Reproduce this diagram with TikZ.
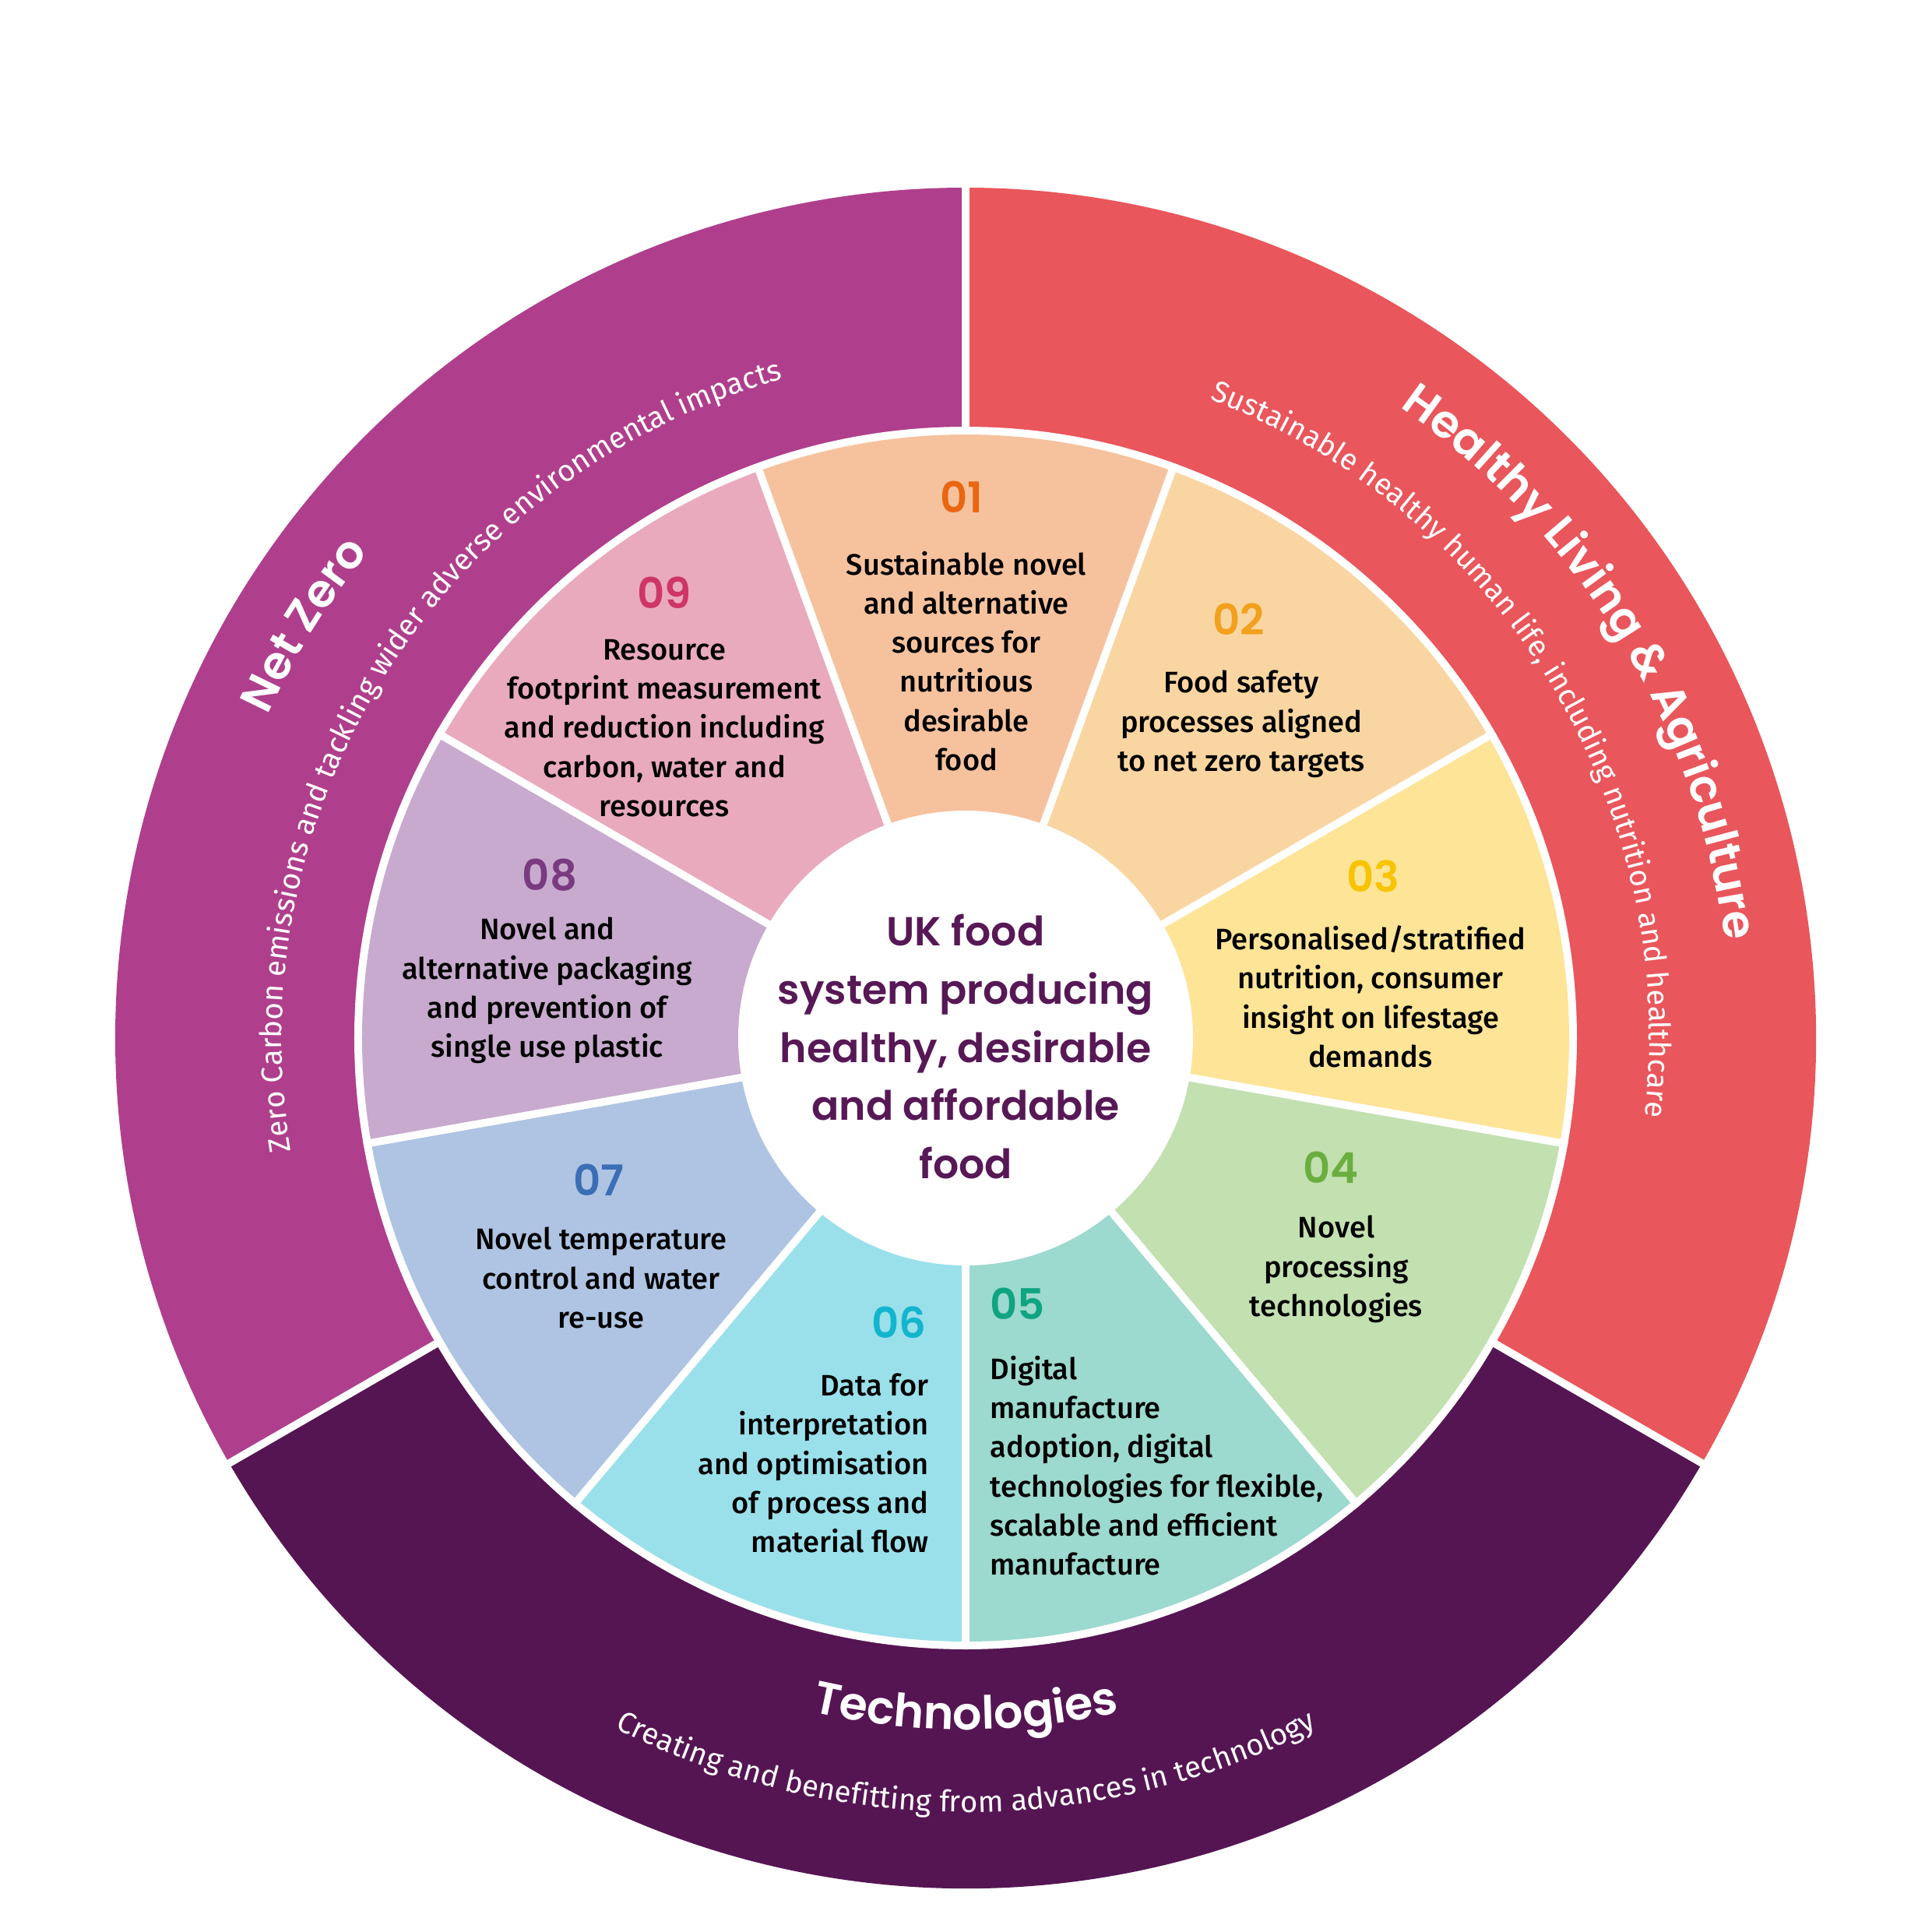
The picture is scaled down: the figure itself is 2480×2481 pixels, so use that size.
\documentclass[tikz,border=0pt]{standalone}
\usepackage{fontspec}
\setmainfont{Fira Sans}[UprightFont=* Medium]
\newfontfamily\subfont{Fira Sans}
\newfontfamily\headfont{Poppins}[UprightFont=* SemiBold]
\usetikzlibrary{decorations.text}
\definecolor{netzero}{HTML}{AF3F8C}
\definecolor{healthy}{HTML}{E9565B}
\definecolor{tech}{HTML}{551553}
\definecolor{ctext}{HTML}{571856}
\definecolor{w01}{HTML}{F6C29E}\definecolor{n01}{HTML}{EA6610}
\definecolor{w02}{HTML}{F9D6A1}\definecolor{n02}{HTML}{F3A01D}
\definecolor{w03}{HTML}{FDE497}\definecolor{n03}{HTML}{F8C300}
\definecolor{w04}{HTML}{C3E0B1}\definecolor{n04}{HTML}{6BAE3F}
\definecolor{w05}{HTML}{9CD9CE}\definecolor{n05}{HTML}{0FA482}
\definecolor{w06}{HTML}{9AE0EA}\definecolor{n06}{HTML}{12B5CE}
\definecolor{w07}{HTML}{AEC4E2}\definecolor{n07}{HTML}{3A6EB5}
\definecolor{w08}{HTML}{C8AACE}\definecolor{n08}{HTML}{793A80}
\definecolor{w09}{HTML}{E9AABE}\definecolor{n09}{HTML}{CF3566}
\tikzset{
  num/.style={font=\headfont\fontsize{15.5}{18}\selectfont, inner sep=0pt},
  body/.style={font=\fontsize{10.8}{14.3}\selectfont, align=center, text=black, inner sep=0pt},
  gap/.style={white, line width=2.8pt},
  arctitle/.style={decorate, decoration={text along path, text align=center, text color=white, text={|\headfont\fontsize{16.7}{20}\selectfont|#1}}},
  arcsub/.style={decorate, decoration={text along path, text align=center, text color=white, text={|\subfont\fontsize{10.9}{12}\selectfont|#1}}}
}
\begin{document}
\begin{tikzpicture}[x=0.01cm,y=0.01cm]
\useasboundingbox (-1240,-1148) rectangle (1240,1333);
% outer ring
\fill[netzero] (0,0) -- (90:1092) arc[start angle=90,end angle=210,radius=1092] -- cycle;
\fill[healthy] (0,0) -- (-30:1092) arc[start angle=-30,end angle=90,radius=1092] -- cycle;
\fill[tech] (0,0) -- (210:1092) arc[start angle=210,end angle=330,radius=1092] -- cycle;
\fill[white] (0,0) circle[radius=785];
\foreach \a in {90,210,330} \draw[gap] (\a:770) -- (\a:1100);
% inner wedges
\foreach \c [count=\k from 0] in {w01,w02,w03,w04,w05,w06,w07,w08,w09} {
  \pgfmathsetmacro\s{70-40*\k}
  \pgfmathsetmacro\e{110-40*\k}
  \fill[\c] (0,0) -- (\s:775) arc[start angle=\s,end angle=\e,radius=775] -- cycle;
}
\foreach \a in {70,30,-10,-50,-90,-130,-170,-210,-250} \draw[gap] (0,0) -- (\a:785);
\fill[white] (0,0) circle[radius=292];
% ring texts
\path[arctitle={Net Zero}] (208:988) arc[start angle=208,end angle=88,radius=988];
\path[arcsub={Zero Carbon emissions and tackling wider adverse environmental impacts}] (207.5:878) arc[start angle=207.5,end angle=87.5,radius=878];
\path[arctitle={Healthy Living {\&} Agriculture}] (91.4:983) arc[start angle=91.4,end angle=-28.6,radius=983];
\path[arcsub={Sustainable healthy human life, including nutrition and healthcare}] (91.25:878) arc[start angle=91.25,end angle=-28.75,radius=878];
\path[arctitle={Technologies}] (210:888) arc[start angle=210,end angle=330,radius=888];
\path[arcsub={Creating and benefitting from advances in technology}] (210:994) arc[start angle=210,end angle=330,radius=994];
% numbers and texts
\node[num,text=n01] (n1) at (-5,695) {01};
\node[body] (t1) at (1,484) {Sustainable novel\\and alternative\\sources for\\nutritious\\desirable\\food};
\node[num,text=n02] (n2) at (351,538) {02};
\node[body] (t2) at (354,403) {Food safety\\processes aligned\\to net zero targets};
\node[num,text=n03] (n3) at (523,208) {03};
\node[body] (t3) at (520,53) {Personalised/stratified\\nutrition, consumer\\insight on lifestage\\demands};
\node[num,text=n04] (n4) at (469,-166) {04};
\node[body] (t4) at (476,-297) {Novel\\processing\\technologies};
\node[num,text=n05,anchor=west] (n5) at (31,-341) {05};
\node[body,anchor=west,align=left] (t5) at (31,-549) {Digital\\manufacture\\adoption, digital\\technologies for flexible,\\scalable and efficient\\manufacture};
\node[num,text=n06,anchor=east] (n6) at (-50,-365) {06};
\node[body,anchor=east,align=right] (t6) at (-47,-546) {Data for\\interpretation\\and optimisation\\of process and\\material flow};
\node[num,text=n07] (n7) at (-471,-182) {07};
\node[body] (t7) at (-468,-308) {Novel temperature\\control and water\\re-use};
\node[num,text=n08] (n8) at (-534,209) {08};
\node[body] (t8) at (-537,61) {Novel and\\alternative packaging\\and prevention of\\single use plastic};
\node[num,text=n09] (n9) at (-387,572) {09};
\node[body] (t9) at (-387,398) {Resource\\footprint measurement\\and reduction including\\carbon, water and\\resources};
\node[font=\headfont\fontsize{14.8}{21.3}\selectfont, text=ctext, align=center, inner sep=0pt] (ctr) at (0,-11) {UK food\\system producing\\healthy, desirable\\and affordable\\food};
\end{tikzpicture}
\end{document}
